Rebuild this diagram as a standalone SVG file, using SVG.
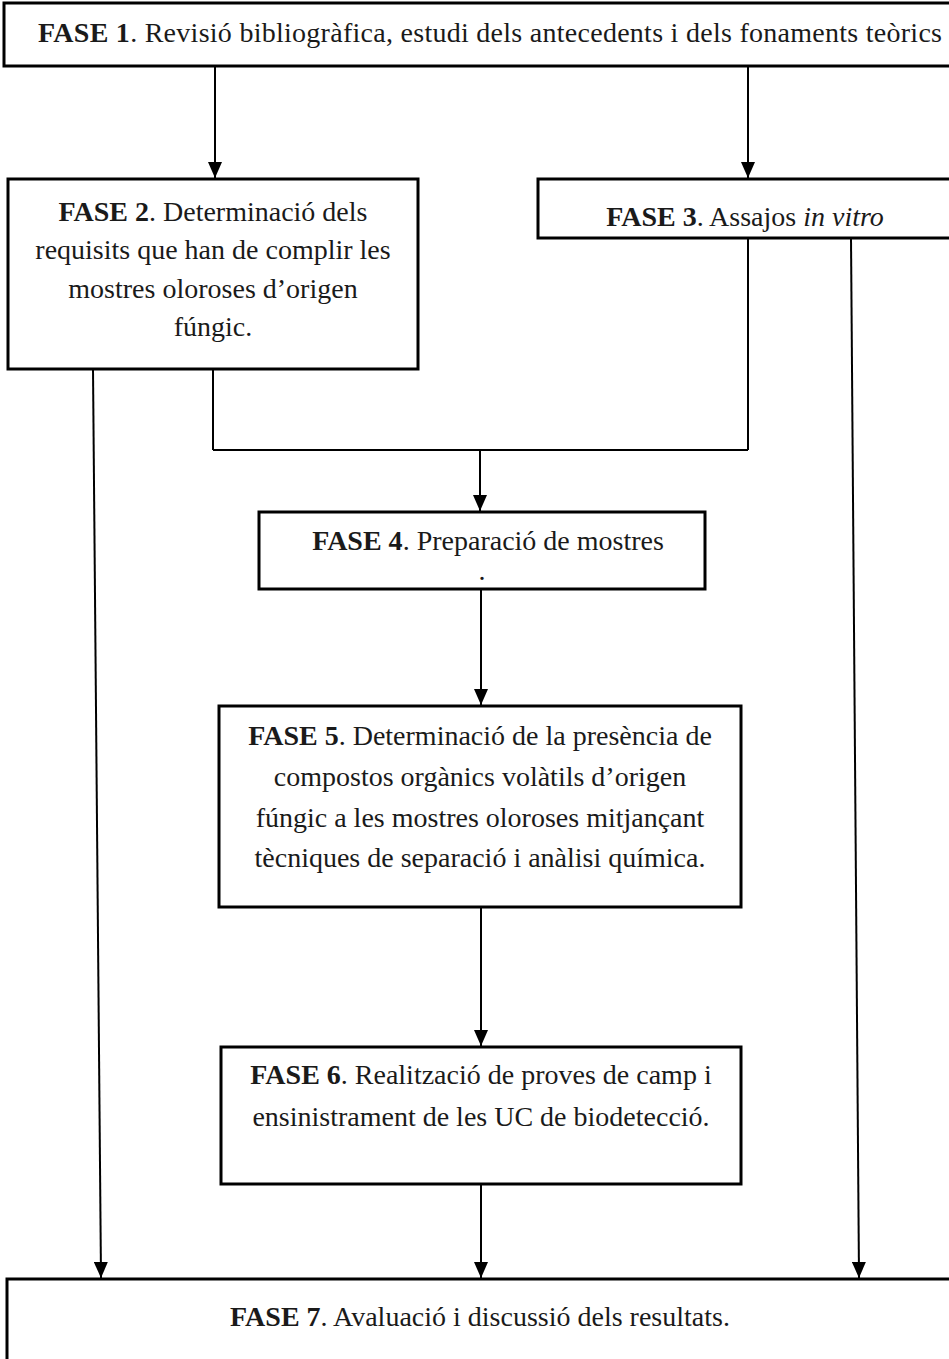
<svg xmlns="http://www.w3.org/2000/svg" width="949" height="1359" viewBox="0 0 949 1359">
<style>
.box{fill:#fff;stroke:#000;stroke-width:3}
.t{font-family:"Liberation Serif","Times New Roman",serif;font-size:28px;fill:#1a1a1a;text-anchor:middle}
.b{font-weight:bold}
.i{font-style:italic}
.c{stroke:#000;stroke-width:2;fill:none}
</style>
<defs>
<marker id="ah" markerUnits="userSpaceOnUse" markerWidth="16" markerHeight="14" refX="16" refY="7" orient="auto" viewBox="0 0 16 14">
<path d="M0,0 L16,7 L0,14 Z" fill="#000"/>
</marker>
</defs>
<g id="connectors">
<line class="c" x1="215" y1="67" x2="215" y2="178" marker-end="url(#ah)"/>
<line class="c" x1="748" y1="67" x2="748" y2="178" marker-end="url(#ah)"/>
<line class="c" x1="93" y1="369" x2="101" y2="1278" marker-end="url(#ah)"/>
<line class="c" x1="851" y1="238" x2="859" y2="1278" marker-end="url(#ah)"/>
<line class="c" x1="213" y1="369" x2="213" y2="450"/>
<line class="c" x1="748" y1="238" x2="748" y2="450"/>
<line class="c" x1="213" y1="450" x2="748" y2="450"/>
<line class="c" x1="480" y1="450" x2="480" y2="511" marker-end="url(#ah)"/>
<line class="c" x1="481" y1="589" x2="481" y2="705" marker-end="url(#ah)"/>
<line class="c" x1="481" y1="907" x2="481" y2="1046" marker-end="url(#ah)"/>
<line class="c" x1="481" y1="1184" x2="481" y2="1278" marker-end="url(#ah)"/>
</g>
<g id="fase1">
<rect class="box" x="4" y="3" width="960" height="63"/>
<text class="t" x="490" y="42" textLength="904" lengthAdjust="spacing"><tspan class="b">FASE 1</tspan>. Revisió bibliogràfica, estudi dels antecedents i dels fonaments teòrics</text>
</g>
<g id="fase2">
<rect class="box" x="8" y="179" width="410" height="190"/>
<text class="t" x="213" y="221"><tspan class="b">FASE 2</tspan>. Determinació dels</text>
<text class="t" x="213" y="259">requisits que han de complir les</text>
<text class="t" x="213" y="298">mostres oloroses d’origen</text>
<text class="t" x="213" y="336">fúngic.</text>
</g>
<g id="fase3">
<rect class="box" x="538" y="179" width="420" height="59"/>
<text class="t" x="745" y="226"><tspan class="b">FASE 3</tspan>. Assajos <tspan class="i">in vitro</tspan></text>
</g>
<g id="fase4">
<rect class="box" x="259" y="512" width="446" height="77"/>
<text class="t" x="488" y="550"><tspan class="b">FASE 4</tspan>. Preparació de mostres</text>
<text class="t" x="482" y="580">.</text>
</g>
<g id="fase5">
<rect class="box" x="219" y="706" width="522" height="201"/>
<text class="t" x="480" y="745"><tspan class="b">FASE 5</tspan>. Determinació de la presència de</text>
<text class="t" x="480" y="786">compostos orgànics volàtils d’origen</text>
<text class="t" x="480" y="827">fúngic a les mostres oloroses mitjançant</text>
<text class="t" x="480" y="867">tècniques de separació i anàlisi química.</text>
</g>
<g id="fase6">
<rect class="box" x="221" y="1047" width="520" height="137"/>
<text class="t" x="481" y="1084"><tspan class="b">FASE 6</tspan>. Realització de proves de camp i</text>
<text class="t" x="481" y="1126">ensinistrament de les UC de biodetecció.</text>
</g>
<g id="fase7">
<rect class="box" x="7" y="1279" width="960" height="100"/>
<text class="t" x="480" y="1326"><tspan class="b">FASE 7</tspan>. Avaluació i discussió dels resultats.</text>
</g>
</svg>
